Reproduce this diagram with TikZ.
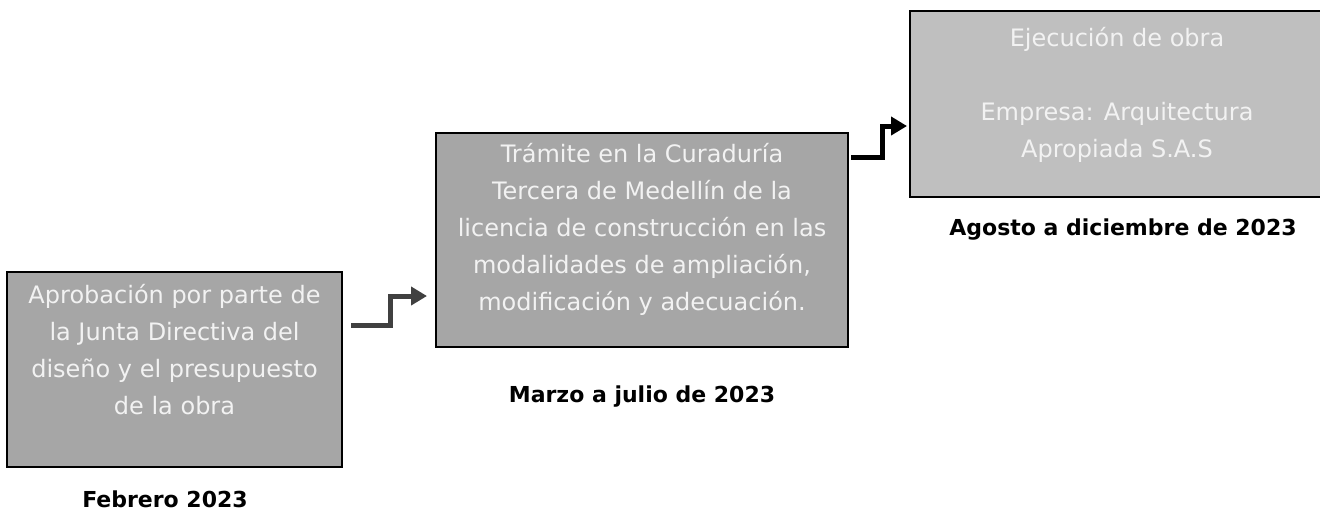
\documentclass[tikz,border=0pt]{standalone}
\usepackage{fontspec}
\setmainfont{DejaVu Sans}
\usetikzlibrary{arrows.meta,calc}
\definecolor{boxgray}{HTML}{A6A6A6}
\definecolor{boxlight}{HTML}{BFBFBF}
\definecolor{arrowgray}{HTML}{404040}
\definecolor{boxtext}{HTML}{F2F2F2}

\begin{document}
\begin{tikzpicture}[x=0.5pt,y=-0.5pt,
	stage/.style={draw=black, line width=1pt, fill=#1, text=boxtext, align=center,
		font=\fontsize{12}{18.5}\selectfont, inner sep=0pt},
	datelabel/.style={anchor=base, font=\fontsize{11}{13}\selectfont\bfseries},
	flow/.style={line width=2.5pt, -{Triangle[length=8pt,width=9pt]}}]
	\useasboundingbox (0,0) rectangle (1320,511);
	
	\node[stage=boxgray, minimum width=167.5pt, minimum height=97.5pt, text height=62.5pt, text depth=18pt] (box1) at (174.5,369.5)
		{Aprobación por parte de\\la Junta Directiva del\\diseño y el presupuesto\\de la obra};
	\node[stage=boxgray, minimum width=206pt, minimum height=107pt, text height=83pt, text depth=13pt] (box2) at (642,240)
		{Trámite en la Curaduría\\Tercera de Medellín de la\\licencia de construcción en las\\modalidades de ampliación,\\modificación y adecuación.};
	\node[stage=boxlight, minimum width=207pt, minimum height=93pt, text height=64.5pt, text depth=11.5pt] (box3) at (1117,104)
		{Ejecución de obra\\[18.5pt]Empresa: Arquitectura\\Apropiada S.A.S};
	
	\node[datelabel] (date1) at (165,507) {Febrero 2023};
	\node[datelabel] (date2) at (642,402) {Marzo a julio de 2023};
	\node[datelabel] (date3) at (1123,235) {Agosto a diciembre de 2023};
	
	\draw[flow, arrowgray] ($(box1.east)+(8,-44.5)$) -- ++(39,0) |- ($(box2.west)+(-8,56)$);
	\draw[flow, black] ($(box2.east)+(2,-83)$) -- ++(31,0) |- ($(box3.west)+(-2,22)$);
\end{tikzpicture}
\end{document}
